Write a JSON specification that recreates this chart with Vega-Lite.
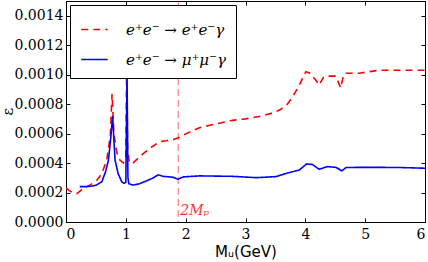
{
  "$schema": "https://vega.github.io/schema/vega-lite/v6.json",
  "autosize": "none",
  "width": 359,
  "height": 221,
  "padding": {"left": 66, "top": 1, "right": 3, "bottom": 40},
  "background": "white",
  "config": {
    "view": {"stroke": "black", "strokeWidth": 1},
    "axis": {"grid": false, "domainColor": "black", "tickColor": "black", "labelColor": "black", "titleColor": "black", "tickSize": -4, "titleFontWeight": "normal"},
    "legend": {"orient": "top-left", "offset": 4, "padding": 10, "strokeColor": "black", "fillColor": "white", "cornerRadius": 0, "labelFont": "DejaVu Serif", "labelFontStyle": "italic", "labelFontSize": 15, "symbolSize": 700, "symbolStrokeWidth": 1.6, "rowPadding": 7, "labelOffset": 17}
  },
  "datasets": {
    "curves": [
      {"x": 0.00, "y": 0.000231, "s": "e⁺e⁻ → e⁺e⁻γ"},
      {"x": 0.05, "y": 0.000215, "s": "e⁺e⁻ → e⁺e⁻γ"},
      {"x": 0.10, "y": 0.000203, "s": "e⁺e⁻ → e⁺e⁻γ"},
      {"x": 0.18, "y": 0.000192, "s": "e⁺e⁻ → e⁺e⁻γ"},
      {"x": 0.24, "y": 0.000212, "s": "e⁺e⁻ → e⁺e⁻γ"},
      {"x": 0.30, "y": 0.000232, "s": "e⁺e⁻ → e⁺e⁻γ"},
      {"x": 0.40, "y": 0.000250, "s": "e⁺e⁻ → e⁺e⁻γ"},
      {"x": 0.51, "y": 0.000280, "s": "e⁺e⁻ → e⁺e⁻γ"},
      {"x": 0.60, "y": 0.000330, "s": "e⁺e⁻ → e⁺e⁻γ"},
      {"x": 0.68, "y": 0.000420, "s": "e⁺e⁻ → e⁺e⁻γ"},
      {"x": 0.74, "y": 0.000580, "s": "e⁺e⁻ → e⁺e⁻γ"},
      {"x": 0.77, "y": 0.000870, "s": "e⁺e⁻ → e⁺e⁻γ"},
      {"x": 0.80, "y": 0.000600, "s": "e⁺e⁻ → e⁺e⁻γ"},
      {"x": 0.85, "y": 0.000470, "s": "e⁺e⁻ → e⁺e⁻γ"},
      {"x": 0.90, "y": 0.000420, "s": "e⁺e⁻ → e⁺e⁻γ"},
      {"x": 0.96, "y": 0.000400, "s": "e⁺e⁻ → e⁺e⁻γ"},
      {"x": 1.00, "y": 0.000440, "s": "e⁺e⁻ → e⁺e⁻γ"},
      {"x": 1.015, "y": 0.001100, "s": "e⁺e⁻ → e⁺e⁻γ"},
      {"x": 1.03, "y": 0.000500, "s": "e⁺e⁻ → e⁺e⁻γ"},
      {"x": 1.06, "y": 0.000400, "s": "e⁺e⁻ → e⁺e⁻γ"},
      {"x": 1.12, "y": 0.000400, "s": "e⁺e⁻ → e⁺e⁻γ"},
      {"x": 1.17, "y": 0.000420, "s": "e⁺e⁻ → e⁺e⁻γ"},
      {"x": 1.28, "y": 0.000460, "s": "e⁺e⁻ → e⁺e⁻γ"},
      {"x": 1.40, "y": 0.000500, "s": "e⁺e⁻ → e⁺e⁻γ"},
      {"x": 1.57, "y": 0.000546, "s": "e⁺e⁻ → e⁺e⁻γ"},
      {"x": 1.68, "y": 0.000552, "s": "e⁺e⁻ → e⁺e⁻γ"},
      {"x": 1.80, "y": 0.000560, "s": "e⁺e⁻ → e⁺e⁻γ"},
      {"x": 1.87, "y": 0.000570, "s": "e⁺e⁻ → e⁺e⁻γ"},
      {"x": 2.01, "y": 0.000600, "s": "e⁺e⁻ → e⁺e⁻γ"},
      {"x": 2.23, "y": 0.000640, "s": "e⁺e⁻ → e⁺e⁻γ"},
      {"x": 2.51, "y": 0.000666, "s": "e⁺e⁻ → e⁺e⁻γ"},
      {"x": 2.78, "y": 0.000690, "s": "e⁺e⁻ → e⁺e⁻γ"},
      {"x": 3.00, "y": 0.000700, "s": "e⁺e⁻ → e⁺e⁻γ"},
      {"x": 3.23, "y": 0.000716, "s": "e⁺e⁻ → e⁺e⁻γ"},
      {"x": 3.45, "y": 0.000740, "s": "e⁺e⁻ → e⁺e⁻γ"},
      {"x": 3.57, "y": 0.000760, "s": "e⁺e⁻ → e⁺e⁻γ"},
      {"x": 3.70, "y": 0.000800, "s": "e⁺e⁻ → e⁺e⁻γ"},
      {"x": 3.79, "y": 0.000850, "s": "e⁺e⁻ → e⁺e⁻γ"},
      {"x": 3.90, "y": 0.000930, "s": "e⁺e⁻ → e⁺e⁻γ"},
      {"x": 4.01, "y": 0.001020, "s": "e⁺e⁻ → e⁺e⁻γ"},
      {"x": 4.08, "y": 0.001010, "s": "e⁺e⁻ → e⁺e⁻γ"},
      {"x": 4.18, "y": 0.000960, "s": "e⁺e⁻ → e⁺e⁻γ"},
      {"x": 4.23, "y": 0.000930, "s": "e⁺e⁻ → e⁺e⁻γ"},
      {"x": 4.30, "y": 0.000980, "s": "e⁺e⁻ → e⁺e⁻γ"},
      {"x": 4.34, "y": 0.000990, "s": "e⁺e⁻ → e⁺e⁻γ"},
      {"x": 4.51, "y": 0.000990, "s": "e⁺e⁻ → e⁺e⁻γ"},
      {"x": 4.59, "y": 0.000910, "s": "e⁺e⁻ → e⁺e⁻γ"},
      {"x": 4.64, "y": 0.001000, "s": "e⁺e⁻ → e⁺e⁻γ"},
      {"x": 4.68, "y": 0.001010, "s": "e⁺e⁻ → e⁺e⁻γ"},
      {"x": 4.90, "y": 0.001010, "s": "e⁺e⁻ → e⁺e⁻γ"},
      {"x": 5.23, "y": 0.001030, "s": "e⁺e⁻ → e⁺e⁻γ"},
      {"x": 5.79, "y": 0.001030, "s": "e⁺e⁻ → e⁺e⁻γ"},
      {"x": 6.00, "y": 0.001030, "s": "e⁺e⁻ → e⁺e⁻γ"},
      {"x": 0.23, "y": 0.000240, "s": "e⁺e⁻ → μ⁺μ⁻γ"},
      {"x": 0.35, "y": 0.000240, "s": "e⁺e⁻ → μ⁺μ⁻γ"},
      {"x": 0.45, "y": 0.000245, "s": "e⁺e⁻ → μ⁺μ⁻γ"},
      {"x": 0.51, "y": 0.000251, "s": "e⁺e⁻ → μ⁺μ⁻γ"},
      {"x": 0.60, "y": 0.000274, "s": "e⁺e⁻ → μ⁺μ⁻γ"},
      {"x": 0.66, "y": 0.000340, "s": "e⁺e⁻ → μ⁺μ⁻γ"},
      {"x": 0.71, "y": 0.000420, "s": "e⁺e⁻ → μ⁺μ⁻γ"},
      {"x": 0.75, "y": 0.000580, "s": "e⁺e⁻ → μ⁺μ⁻γ"},
      {"x": 0.78, "y": 0.000720, "s": "e⁺e⁻ → μ⁺μ⁻γ"},
      {"x": 0.80, "y": 0.000560, "s": "e⁺e⁻ → μ⁺μ⁻γ"},
      {"x": 0.82, "y": 0.000420, "s": "e⁺e⁻ → μ⁺μ⁻γ"},
      {"x": 0.87, "y": 0.000330, "s": "e⁺e⁻ → μ⁺μ⁻γ"},
      {"x": 0.93, "y": 0.000274, "s": "e⁺e⁻ → μ⁺μ⁻γ"},
      {"x": 0.97, "y": 0.000262, "s": "e⁺e⁻ → μ⁺μ⁻γ"},
      {"x": 1.00, "y": 0.000270, "s": "e⁺e⁻ → μ⁺μ⁻γ"},
      {"x": 1.02, "y": 0.001000, "s": "e⁺e⁻ → μ⁺μ⁻γ"},
      {"x": 1.035, "y": 0.000300, "s": "e⁺e⁻ → μ⁺μ⁻γ"},
      {"x": 1.05, "y": 0.000260, "s": "e⁺e⁻ → μ⁺μ⁻γ"},
      {"x": 1.12, "y": 0.000250, "s": "e⁺e⁻ → μ⁺μ⁻γ"},
      {"x": 1.23, "y": 0.000260, "s": "e⁺e⁻ → μ⁺μ⁻γ"},
      {"x": 1.35, "y": 0.000280, "s": "e⁺e⁻ → μ⁺μ⁻γ"},
      {"x": 1.46, "y": 0.000300, "s": "e⁺e⁻ → μ⁺μ⁻γ"},
      {"x": 1.54, "y": 0.000320, "s": "e⁺e⁻ → μ⁺μ⁻γ"},
      {"x": 1.62, "y": 0.000310, "s": "e⁺e⁻ → μ⁺μ⁻γ"},
      {"x": 1.79, "y": 0.000304, "s": "e⁺e⁻ → μ⁺μ⁻γ"},
      {"x": 1.87, "y": 0.000290, "s": "e⁺e⁻ → μ⁺μ⁻γ"},
      {"x": 1.96, "y": 0.000306, "s": "e⁺e⁻ → μ⁺μ⁻γ"},
      {"x": 2.23, "y": 0.000313, "s": "e⁺e⁻ → μ⁺μ⁻γ"},
      {"x": 2.78, "y": 0.000310, "s": "e⁺e⁻ → μ⁺μ⁻γ"},
      {"x": 3.18, "y": 0.000301, "s": "e⁺e⁻ → μ⁺μ⁻γ"},
      {"x": 3.51, "y": 0.000308, "s": "e⁺e⁻ → μ⁺μ⁻γ"},
      {"x": 3.68, "y": 0.000330, "s": "e⁺e⁻ → μ⁺μ⁻γ"},
      {"x": 3.90, "y": 0.000353, "s": "e⁺e⁻ → μ⁺μ⁻γ"},
      {"x": 4.02, "y": 0.000394, "s": "e⁺e⁻ → μ⁺μ⁻γ"},
      {"x": 4.12, "y": 0.000390, "s": "e⁺e⁻ → μ⁺μ⁻γ"},
      {"x": 4.23, "y": 0.000358, "s": "e⁺e⁻ → μ⁺μ⁻γ"},
      {"x": 4.37, "y": 0.000376, "s": "e⁺e⁻ → μ⁺μ⁻γ"},
      {"x": 4.51, "y": 0.000371, "s": "e⁺e⁻ → μ⁺μ⁻γ"},
      {"x": 4.61, "y": 0.000347, "s": "e⁺e⁻ → μ⁺μ⁻γ"},
      {"x": 4.68, "y": 0.000370, "s": "e⁺e⁻ → μ⁺μ⁻γ"},
      {"x": 5.01, "y": 0.000371, "s": "e⁺e⁻ → μ⁺μ⁻γ"},
      {"x": 5.57, "y": 0.000370, "s": "e⁺e⁻ → μ⁺μ⁻γ"},
      {"x": 6.00, "y": 0.000365, "s": "e⁺e⁻ → μ⁺μ⁻γ"}
    ],
    "threshold": [{"x": 1.876, "label": "2Mₚ", "ly": 0.00005}]
  },
  "resolve": {"axis": {"x": "independent", "y": "independent"}},
  "layer": [
    {
      "data": {"name": "threshold"},
      "mark": {"type": "rule", "color": "#ff0000", "opacity": 0.5, "strokeWidth": 1.2, "strokeDash": [7, 4]},
      "encoding": {
        "x": {"field": "x", "type": "quantitative", "scale": {"domain": [0, 6], "nice": false}, "axis": null}
      }
    },
    {
      "data": {"name": "curves"},
      "mark": {"type": "line", "strokeWidth": 1.6, "clip": true},
      "encoding": {
        "x": {"field": "x", "type": "quantitative", "scale": {"domain": [0, 6], "nice": false},
              "axis": {"orient": "bottom", "values": [0, 1, 2, 3, 4, 5, 6], "format": "d", "labelFont": "DejaVu Serif", "labelFontSize": 14, "title": "Mᵤ(GeV)", "titleFont": "DejaVu Sans", "titleFontSize": 15, "titlePadding": 3, "labelPadding": 9}},
        "y": {"field": "y", "type": "quantitative", "scale": {"domain": [0, 0.0015], "nice": false, "zero": true},
              "axis": {"orient": "left", "values": [0, 0.0002, 0.0004, 0.0006, 0.0008, 0.001, 0.0012, 0.0014], "format": ".4f", "labelFont": "DejaVu Serif", "labelFontSize": 14, "title": "ε", "titleFont": "DejaVu Serif", "titleFontSize": 15, "titleAngle": -90, "titleBaseline": "middle", "titleX": -59, "titleY": 110, "labelPadding": 7}},
        "color": {"field": "s", "type": "nominal", "title": null,
                  "scale": {"domain": ["e⁺e⁻ → e⁺e⁻γ", "e⁺e⁻ → μ⁺μ⁻γ"], "range": ["#ff0000", "#0000ff"]}},
        "strokeDash": {"field": "s", "type": "nominal", "title": null,
                       "scale": {"domain": ["e⁺e⁻ → e⁺e⁻γ", "e⁺e⁻ → μ⁺μ⁻γ"], "range": [[7, 5], [1, 0]]}}
      }
    },
    {
      "data": {"name": "threshold"},
      "mark": {"type": "text", "color": "#ff0000", "opacity": 0.8, "font": "DejaVu Serif", "fontStyle": "italic", "fontSize": 14, "align": "left", "baseline": "alphabetic", "dx": 2},
      "encoding": {
        "x": {"field": "x", "type": "quantitative", "scale": {"domain": [0, 6], "nice": false},
              "axis": {"orient": "top", "values": [0, 1, 2, 3, 4, 5, 6], "labels": false, "title": null}},
        "y": {"field": "ly", "type": "quantitative", "scale": {"domain": [0, 0.0015], "nice": false},
              "axis": {"orient": "right", "values": [0, 0.0002, 0.0004, 0.0006, 0.0008, 0.001, 0.0012, 0.0014], "labels": false, "title": null}},
        "text": {"field": "label", "type": "nominal"}
      }
    }
  ]
}
